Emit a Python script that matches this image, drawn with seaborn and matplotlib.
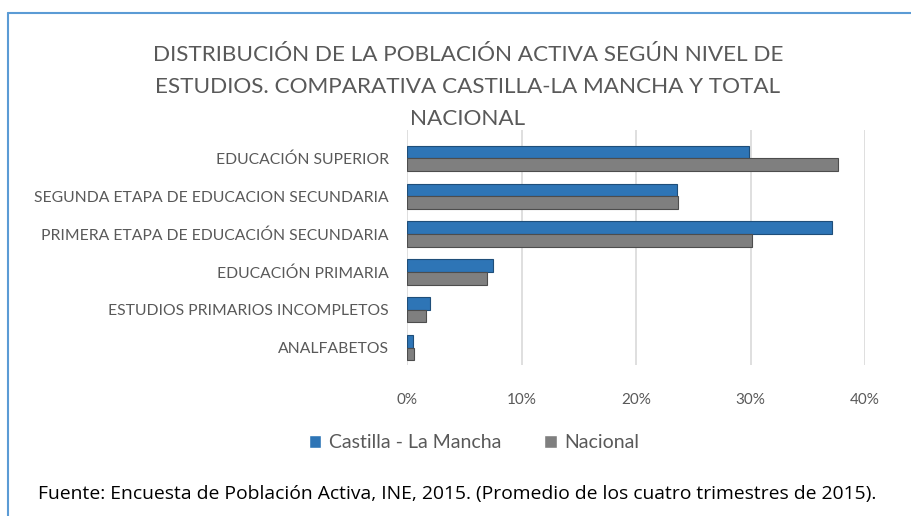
import matplotlib
matplotlib.use("Agg")
import matplotlib.pyplot as plt
import seaborn as sns
import pandas as pd
from matplotlib.lines import Line2D

categories = [
    "EDUCACIÓN SUPERIOR",
    "SEGUNDA ETAPA DE EDUCACION SECUNDARIA",
    "PRIMERA ETAPA DE EDUCACIÓN SECUNDARIA",
    "EDUCACIÓN PRIMARIA",
    "ESTUDIOS PRIMARIOS INCOMPLETOS",
    "ANALFABETOS",
]
clm = [29.9, 23.6, 37.1, 7.5, 2.0, 0.5]
nacional = [37.6, 23.7, 30.1, 7.0, 1.7, 0.6]
series = ["Castilla - La Mancha", "Nacional"]
xticks = [0, 10, 20, 30, 40]
xticklabels = ["0%", "10%", "20%", "30%", "40%"]

title = ("DISTRIBUCIÓN DE LA POBLACIÓN ACTIVA SEGÚN NIVEL DE\n"
         "ESTUDIOS. COMPARATIVA CASTILLA-LA MANCHA Y TOTAL\n"
         "NACIONAL")
footer = "Fuente: Encuesta de Población Activa, INE, 2015. (Promedio de los cuatro trimestres de 2015)."

df = pd.DataFrame({
    "cat": categories * 2,
    "serie": [series[0]] * len(categories) + [series[1]] * len(categories),
    "val": clm + nacional,
})

sns.set_theme(style="white")
plt.rcParams['font.family'] = ['Lato', 'DejaVu Sans']

W, H = 912, 516
fig = plt.figure(figsize=(W / 100, H / 100), dpi=100)
fig.patch.set_facecolor("white")
ax = fig.add_axes([407 / W, 1 - 365 / H, (865 - 407) / W, (365 - 130) / H])

colors = {series[0]: "#2E75B6", series[1]: "#7F7F7F"}
edges = {series[0]: "#1F4E79", series[1]: "#4D4D4D"}
sns.barplot(data=df, y="cat", x="val", hue="serie", order=categories,
            hue_order=series, palette=colors, orient="h", width=0.66,
            gap=0, saturation=1, ax=ax, legend=True, zorder=3)
for cont, s in zip(ax.containers, series):
    for p in cont:
        p.set_edgecolor(edges[s])
        p.set_linewidth(0.8)

ax.set_xlim(0, 40)
ax.set_ylim(5.45, -0.74)
ax.set_xticks(xticks)
ax.set_xticklabels(xticklabels)
ax.set_xlabel("")
ax.set_ylabel("")
for s in ax.spines.values():
    s.set_visible(False)
ax.grid(False)
for xv in xticks:
    ax.axvline(xv, color="#D9D9D9", lw=1.2, zorder=1)
ax.tick_params(axis="x", colors="#595959", labelsize=11, length=0, pad=20)
ax.tick_params(axis="y", colors="#595959", labelsize=11.3, length=0, pad=13)
for t in ax.get_xticklabels() + ax.get_yticklabels():
    t.set_color("#595959")

handles, labels = ax.get_legend_handles_labels()
ax.get_legend().remove()
fig.legend(handles, labels, loc="center", bbox_to_anchor=(474 / W, 1 - 443 / H),
           ncol=2, frameon=False, handlelength=0.65, handleheight=0.65,
           handletextpad=0.4, columnspacing=2.2, fontsize=14,
           labelcolor="#595959")

fig.text(468 / W, 1 - 87 / H, title, ha="center", va="center", fontsize=16.2,
         color="#595959", linespacing=1.78,
         family=["Liberation Sans Narrow", "Lato", "DejaVu Sans"])
fig.text(38 / W, 1 - 494 / H, footer, ha="left", va="center", fontsize=13.85,
         color="black", family=["Open Sans", "DejaVu Sans"])

fig.add_artist(Line2D([8 / W, 1], [1 - 13 / H, 1 - 13 / H], color="#5B9BD5", lw=1.5,
                      transform=fig.transFigure))
fig.add_artist(Line2D([8 / W, 8 / W], [1 - 13 / H, 0], color="#5B9BD5", lw=1.5,
                      transform=fig.transFigure))

fig.savefig("out.png", dpi=100)
